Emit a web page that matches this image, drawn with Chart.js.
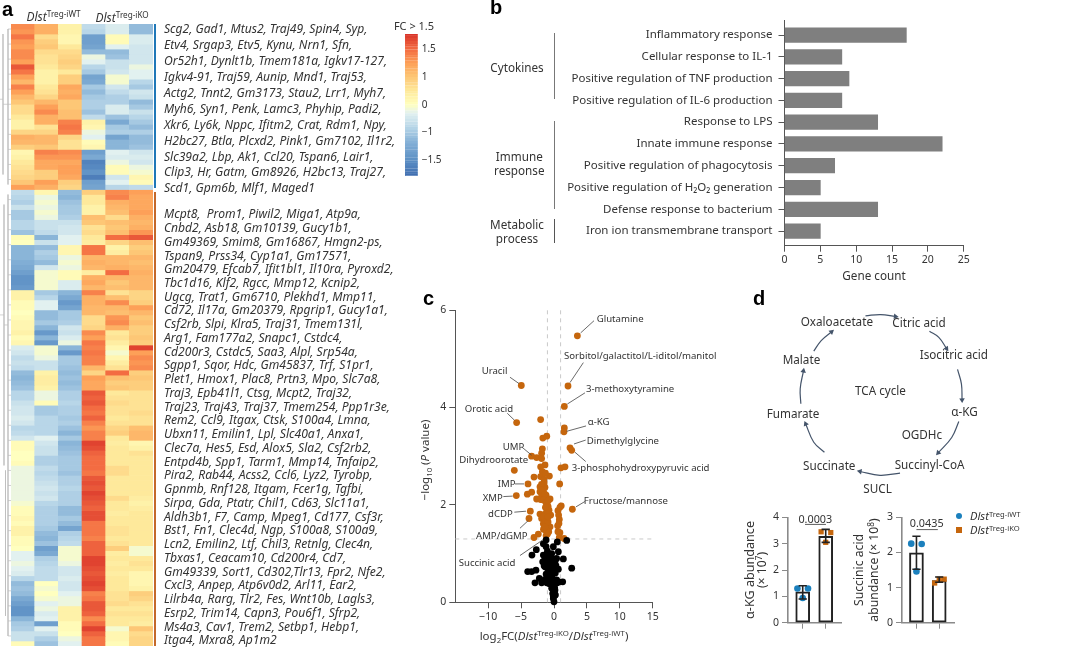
<!DOCTYPE html>
<html>
<head>
<meta charset="utf-8">
<script src="https://cdn.jsdelivr.net/npm/chart.js@4/dist/chart.umd.min.js"></script>
<style>
  html, body { margin: 0; padding: 0; background: #fff; }
  #page { position: relative; width: 1080px; height: 662px; overflow: hidden; font-family: "Noto Sans", sans-serif; color: #333; filter: blur(0.35px); }
  #page canvas { position: absolute; }
  .t { position: absolute; white-space: nowrap; line-height: 1; }
  .genes { position: absolute; left: 164px; font-style: italic; font-size: 12.1px; color: #333; white-space: pre; }
  .letter { position: absolute; font: 800 20px "Liberation Sans", sans-serif; color: #000; line-height: 1; }
  sup { font-size: 0.68em; line-height: 0; vertical-align: 0.5em; font-style: normal; }
  sub { font-size: 0.68em; line-height: 0; vertical-align: -0.3em; }
  i sup { font-style: normal; }
  .rule { position: absolute; }
</style>
</head>
<body>
<div id="page"></div>
<script>
// panel a, heatmap levels, one row = one gene, top to bottom
const heatCol1 = [1.7,1.6,1.9,1.6,1.5,1.7,1.7,1.5,2.2,1.9,1.5,1.2,1.8,1.5,1.2,1.0,0.7,0.7,0.5,0.3,0.3,0.8,1.3,1.2,0.9,0.2,0.3,0.5,0.6,0.7,0.8,1.0,1.5,
  -0.7,-0.8,-0.9,-0.6,-1.0,-1.0,-0.8,-0.8,-1.1,0.1,0.0,-1.3,-1.3,-1.3,-1.4,-1.5,-1.7,-1.9,-1.9,-1.8,0.3,0.3,0.1,0.1,0.0,0.1,0.2,0.2,0.3,0.1,0.2,-0.4,-0.5,-0.7,-0.6,-0.7,-1.2,-1.3,-1.2,-1.1,-0.8,-0.8,-0.6,-0.5,-0.5,-0.4,-0.5,
  -0.8,-0.7,-0.5,0.1,0.1,0,0,0.1,-0.2,-0.2,-0.2,-0.2,-0.2,-0.2,-0.2,-0.1,0.1,0.1,0.2,0.1,0.3,0.3,0.1,0.1,0,-0.3,-0.3,-0.2,-0.3,-0.4,-0.8,-1.2,-1.1,-1.2,-1.5,-1.7,-1.9,-1.9,-1.3,-1,-0.9,-0.6,-0.6,0.1];
const heatCol2 = [1.3,1.3,0.7,0.9,1.0,0.7,0.6,0.6,0.5,0.3,0.3,0.3,0.5,0.6,0.8,1.2,1.5,1.7,1.3,1.3,0.6,0.8,1.2,1.2,1.0,1.8,1.6,1.4,1.4,0.9,0.9,1.5,1.3,
  0.2,-0.2,-0.1,-0.2,-0.1,-0.2,-0.6,-0.6,-0.7,-1.3,-0.6,-1.2,-0.9,-1.0,-1.2,-0.5,-0.1,-0.1,-0.1,-0.1,-1,-0.8,-0.3,-0.3,-1.2,-1.2,-1.0,-1.3,-1.8,-1.3,-1.8,-0.1,-0.1,-0.2,-0.6,-0.6,0.3,0.4,0.4,0.3,-0.2,-0.2,0.1,-1,-1,-0.8,-0.8,
  -0.8,-0.8,-0.3,-0.5,-0.6,-0.6,-0.9,-0.9,-0.7,-0.8,-0.7,-0.6,-0.5,-0.6,-0.5,-0.8,-0.9,-0.9,-0.9,-0.9,-1,-1.2,-1.3,-1.1,-1.7,-1.5,-0.9,-0.8,-0.7,-0.7,-0.7,0,-0.1,0,-0.1,-0.3,-0.2,-0.4,-0.3,-1.7,-0.3,-0.6,-0.9,-1.1];
const heatCol3 = [0.3,0.3,0.2,0.2,0.5,0.7,0.8,0.9,0.8,0.5,0.9,0.9,1.4,1.3,1.4,1.0,1.0,1.1,1.1,1.8,1.9,1.8,0.8,0.6,0.6,1.7,1.6,1.4,1.5,1.5,1.4,0.9,0.8,
  -1.2,-1.3,-1.1,-1,-1,-0.9,-0.6,-0.5,-0.5,-0.3,-0.3,0.2,0.2,-0.2,-0.1,-0.2,0.1,0.1,-0.4,-0.4,-1.3,-1.5,-1.8,-1.6,-1,-1,-0.9,-0.5,-0.6,-0.4,-0.2,-1.3,-1.8,-1.0,-1.0,-1.1,-1.2,-1.1,-1.2,-1.1,-0.9,-0.9,-0.8,-0.9,-0.9,-1,-0.9,
  -1.1,-1.3,-1,-1.3,-1.2,-1.1,-1,-1,-1,-1.1,-0.9,-0.9,-0.8,-0.9,-0.9,-0.9,-1.2,-1.2,-1,-1.2,-1.6,-0.9,-0.8,-0.7,-0.1,-0.1,-0.1,-0.2,-0.5,-0.5,-0.4,-0.5,-0.5,-0.3,-0.2,-0.2,0.3,0.3,0.3,0.1,0.1,0,-0.2,-0.3];
const heatCol4 = [-0.7,-0.8,-1.7,-1.7,-1.6,-1.2,-0.2,-0.3,-0.8,-1,-1.6,-1.5,-1,-1.2,-1,-0.9,-0.9,-1.1,-0.7,0.3,0.2,-0.2,-0.3,0.1,0.2,-1.7,-1.5,-2.2,-2.1,-1.9,-2.3,-1.7,-1.6,
  0.9,0.5,0.5,0.3,0.3,1.1,1.0,0.6,0.7,0.5,0.4,1.9,1.9,1.2,1.3,1.2,0.4,1.3,1.4,1.2,1.8,1.3,1.3,1.2,1.2,0.7,0.7,0.8,1.7,1.5,1.9,1.8,1.9,1.8,1.8,1.2,0.8,1.5,1.4,1.4,2.2,2.1,2.2,2.0,1.9,2.1,1.8,
  1.6,1.8,1.8,2.4,2.3,2.1,2,2,2,1.9,2.2,2.3,2.2,2.4,2.3,2.2,2.1,2.3,2.3,1.9,1.9,1.9,1.8,2.1,2.1,2.1,2.4,2.4,2.3,2.2,2.3,2.4,2.3,1.8,1.9,2.2,2.2,2.1,1.7,2,2.4,2.1,1.9,1.9];
const heatCol5 = [-0.4,-0.4,0.1,0.1,-0.3,-1.2,-1.1,-0.6,-0.6,-0.5,-0.1,-0.1,-0.5,-0.7,-0.9,-0.9,-0.4,-0.4,-1.1,-1.5,-1,-0.9,-1.6,-1.3,-1.3,-0.3,-0.4,-0.2,0.1,0.1,-0.5,-0.3,-0.8,
  1.7,1.8,1.3,1.2,1.1,0.7,1.1,1.0,1.1,2,0.8,0.3,0.4,1.2,1.2,1.3,2,1.2,1.0,1.1,0.6,1.1,1.7,1.2,1.1,1.6,1.7,1.3,0.5,0.6,0.4,0.2,-0.1,0.2,0.4,0.6,2.0,1.1,0.9,1,0.5,0.6,0.7,0.6,0.6,0.5,0.6,
  0.8,0.9,0.5,0.4,0.5,0.5,0.5,0.5,0.7,0.7,0.5,0.5,0.5,0.5,0.7,0.5,0.5,0.4,0.5,0.5,0.6,0.6,0.5,0.6,0.9,0.4,0.5,0.4,0.5,0.4,0.5,0.5,0.5,0.6,0.6,0.7,0.5,0.6,0.5,0.5,-0.1,0.2,0.2,0.1];
const heatCol6 = [-1.2,-1.2,-0.4,-0.4,-0.5,-0.5,-0.5,-0.5,-0.2,-0.3,-0.3,-0.8,-1,-0.5,-0.6,-1.2,-1,-0.6,-0.8,-1,-1.2,-0.9,-1.2,-1.2,-1.1,-0.5,-0.4,-0.5,-0.2,-0.1,0.2,0.1,-0.7,
  1.5,1.4,1.4,1.4,1.5,1.3,1.2,1.3,1.6,2.2,1.1,0.9,1.0,1.2,1.1,1.2,1.3,1.2,1.2,1.2,0.8,0.8,0.9,1.5,1.2,1,1.1,0.9,0.9,1,0.9,2.4,1.5,1.7,1.6,1.7,0.9,1,0.9,0.9,0.6,0.6,0.6,0.6,0.7,0.6,0.6,
  1.1,1.2,1.2,0.2,0.3,0.6,0.5,0.5,0.5,0.5,0.5,0.5,0.5,0.5,0.4,0.3,0.4,0.5,0.5,0.5,0.5,0.5,0.5,0.5,-0.1,-0.1,0.5,0.6,0.5,0.2,0.2,0.2,0.3,0.9,0.8,0.6,0.5,0.6,0.5,0.4,1,0.7,0.8,0.8];
const heatColumns = ["WT1", "WT2", "WT3", "KO1", "KO2", "KO3"];

// dendrogram next to the heatmap: x = height, y = row, NaN breaks the line
const dendroX = [0,3,NaN, 3,3,NaN, 0,4,NaN, 4,4,NaN, 3,8,NaN, 4,8,NaN, 5.5,5.5,NaN, 8,8,NaN, 8,8,NaN];
const dendroY = [15,15,NaN, 2,30,NaN, 58,58,NaN, 36,88,NaN, 16,16,NaN, 60,60,NaN, 89,118,NaN, 1,32,NaN, 34,122,NaN];
const dendroTwigs = [1,4,7,10,13,16,19,22,25,28,31,35,38,41,44,47,50,53,56,59,62,65,68,71,74,77,80,83,86,89,92,95,98,101,104,107,110,113,116,119,122];

const colorbarTicks = { "2": "1.5", "1": "1", "0": "0", "-1": "\u22121", "-2": "\u22121.5" };

const genesUp = [
  "Scg2, Gad1, Mtus2, Traj49, Spin4, Syp,",
  "Etv4, Srgap3, Etv5, Kynu, Nrn1, Sfn,",
  "Or52h1, Dynlt1b, Tmem181a, Igkv17-127,",
  "Igkv4-91, Traj59, Aunip, Mnd1, Traj53,",
  "Actg2, Tnnt2, Gm3173, Stau2, Lrr1, Myh7,",
  "Myh6, Syn1, Penk, Lamc3, Phyhip, Padi2,",
  "Xkr6, Ly6k, Nppc, Ifitm2, Crat, Rdm1, Npy,",
  "H2bc27, Btla, Plcxd2, Pink1, Gm7102, Il1r2,",
  "Slc39a2, Lbp, Ak1, Ccl20, Tspan6, Lair1,",
  "Clip3, Hr, Gatm, Gm8926, H2bc13, Traj27,",
  "Scd1, Gpm6b, Mlf1, Maged1"];
const genesDown = [
  "Mcpt8,  Prom1, Piwil2, Miga1, Atp9a,",
  "Cnbd2, Asb18, Gm10139, Gucy1b1,",
  "Gm49369, Smim8, Gm16867, Hmgn2-ps,",
  "Tspan9, Prss34, Cyp1a1, Gm17571,",
  "Gm20479, Efcab7, Ifit1bl1, Il10ra, Pyroxd2,",
  "Tbc1d16, Klf2, Rgcc, Mmp12, Kcnip2,",
  "Ugcg, Trat1, Gm6710, Plekhd1, Mmp11,",
  "Cd72, Il17a, Gm20379, Rpgrip1, Gucy1a1,",
  "Csf2rb, Slpi, Klra5, Traj31, Tmem131l,",
  "Arg1, Fam177a2, Snapc1, Cstdc4,",
  "Cd200r3, Cstdc5, Saa3, Alpl, Srp54a,",
  "Sgpp1, Sqor, Hdc, Gm45837, Trf, S1pr1,",
  "Plet1, Hmox1, Plac8, Prtn3, Mpo, Slc7a8,",
  "Traj3, Epb41l1, Ctsg, Mcpt2, Traj32,",
  "Traj23, Traj43, Traj37, Tmem254, Ppp1r3e,",
  "Rem2, Ccl9, Itgax, Ctsk, S100a4, Lmna,",
  "Ubxn11, Emilin1, Lpl, Slc40a1, Anxa1,",
  "Clec7a, Hes5, Esd, Alox5, Sla2, Csf2rb2,",
  "Entpd4b, Spp1, Tarm1, Mmp14, Tnfaip2,",
  "Pira2, Rab44, Acss2, Ccl6, Lyz2, Tyrobp,",
  "Gpnmb, Rnf128, Itgam, Fcer1g, Tgfbi,",
  "Sirpa, Gda, Ptatr, Chil1, Cd63, Slc11a1,",
  "Aldh3b1, F7, Camp, Mpeg1, Cd177, Csf3r,",
  "Bst1, Fn1, Clec4d, Ngp, S100a8, S100a9,",
  "Lcn2, Emilin2, Ltf, Chil3, Retnlg, Clec4n,",
  "Tbxas1, Ceacam10, Cd200r4, Cd7,",
  "Gm49339, Sort1, Cd302,Tlr13, Fpr2, Nfe2,",
  "Cxcl3, Anpep, Atp6v0d2, Arl11, Ear2,",
  "Lilrb4a, Rarg, Tlr2, Fes, Wnt10b, Lagls3,",
  "Esrp2, Trim14, Capn3, Pou6f1, Sfrp2,",
  "Ms4a3, Cav1, Trem2, Setbp1, Hebp1,",
  "Itga4, Mxra8, Ap1m2"];

// panel b
const termLabels = ["Inflammatory response", "Cellular response to IL-1", "Positive regulation of TNF production",
  "Positive regulation of IL-6 production", "Response to LPS", "Innate immune response",
  "Positive regulation of phagocytosis", "Positive regulation of H\u2082O\u2082 generation",
  "Defense response to bacterium", "Iron ion transmembrane transport"];
const geneCounts = [17, 8, 9, 8, 13, 22, 7, 5, 13, 5];

// panel c, log2FC and -log10 P
const sigFC = [3.55,-4.97,2.13,1.57,-5.68,-2.03,1.57,1.52,-1.1,-1.7,2.43,2.69,-1.77,-1.88,-3.4,-2.64,-1.88,-1.37,-2.03,1.06,1.67,-6.03,-1.77,-0.7,-3.04,-2.03,-1.52,-3.95,0.86,-2.13,-1.37,-3.4,-4.05,-5.73,-2.13,-1.62,-1.88,-1.2,-2.64,-2.03,-1.37,-0.6,-1.1,1.1,2.79,-3.6,-1.2,-0.76,0.6,-2.13,-1.37,-0.5,0.7,-3.8,-1.88,0.81,-1.1,-1.62,-0.6,0.55,-1.2,0.9,-2.38,-3.04,-1.2,0.8,1.52,
  -1.3,-1.5,-1.9,-1.6,-1.9,-1.4,-1.6,-1.2,-0.9,-0.9,-1.3,-1.0,-1.6,-1.3,-0.9,-0.8,-1.0,-0.9,0.9,0.75,0.6,-1.6,-1.4];
const sigP = [5.47,4.45,4.44,4.02,3.69,3.75,3.58,3.5,3.41,3.37,3.17,3.12,3.15,3.06,3.0,2.97,2.95,2.82,2.78,2.76,2.78,2.71,2.68,2.59,2.57,2.58,2.53,2.43,2.43,2.37,2.36,2.26,2.22,2.19,2.27,2.25,2.18,2.2,2.12,2.11,2.09,2.12,2.0,1.98,1.91,1.87,1.93,1.89,1.88,1.81,1.81,1.79,1.79,1.72,1.72,1.7,1.62,1.61,1.55,1.57,1.47,1.43,1.4,1.33,1.37,1.33,1.31,
  2.65,2.45,2.42,2.32,2.3,2.22,2.1,2.05,2.08,1.97,1.95,1.83,1.75,1.65,1.65,1.45,1.4,1.75,1.95,1.62,1.45,1.5,1.55];
const nsFC = [-1.2,-1.62,1.93,0.5,-2.69,-3.35,-1.2,-0.1,0.66,1.42,2.69,-1.62,-1.1,-0.35,-1.72,-0.86,0.15,-1.37,-0.35,0.66,-4,-3.4,-2.74,-0.1,-2.23,-1.37,-0.5,-2.89,-1.88,-0.86,0.5,1.32,-0.1,-0.35,0.15,-0.2,0.15,-0.1,0,0.4,-0.86,0.4,
  -1,-1.4,-0.9,-1.5,-1.2,-0.6,-1.5,-1,-0.4,-0.2,-0.7,-0.1,0.2,0.3,-0.5,-0.3,-0.8,-0.1,0.3,0.2,-0.2,-0.05,0,0.1,-0.1,-1.1,-0.7,0.75,-1.2];
const nsP = [1.28,1.2,1.27,1.24,1.08,0.97,1.14,1.14,1.04,0.89,0.7,0.97,0.94,1.0,0.83,0.83,0.83,0.73,0.73,0.68,0.63,0.63,0.66,0.6,0.49,0.47,0.53,0.4,0.4,0.42,0.4,0.42,0.36,0.29,0.25,0.18,0.15,0.08,0.01,0.46,0.94,0.9,
  1.05,0.95,0.9,0.85,0.8,0.85,0.75,0.7,0.9,0.8,0.6,0.7,0.6,0.75,0.45,0.5,0.5,0.45,0.4,0.15,0.35,0.25,0.2,0.3,0.12,0.4,0.38,0.42,0.58];
const leaderX = [6.08,4.05,NaN, 4.46,2.43,NaN, 4.71,2.03,NaN, -6.69,-5.32,NaN, -7.1,-6.03,NaN, 4.87,1.93,NaN, 4.82,3.04,NaN, 4.82,3.19,NaN, -4.92,-3.4,NaN, -5.93,-4.56,NaN, -7.7,-6.28,NaN, -6.03,-4.26,NaN, -5.17,-3.9,NaN, -5.17,-1.72,NaN, 4.71,3.35];
const leaderY = [5.78,5.53,NaN, 4.92,4.51,NaN, 4.3,4.07,NaN, 4.62,4.49,NaN, 3.88,3.74,NaN, 3.62,3.51,NaN, 3.33,3.25,NaN, 2.89,3.08,NaN, 3.19,3.02,NaN, 2.43,2.43,NaN, 2.17,2.18,NaN, 1.85,1.87,NaN, 1.52,1.68,NaN, 0.96,1.28,NaN, 2.07,1.96];

// panel d, bars with replicates
const akgBars = [1.17, 3.28];
const akgWT = [1.3, 1.3, 0.94];
const akgKO = [3.45, 3.42, 3.05];
const akgErrLow = [0.9, 3.05];
const akgErrHigh = [1.4, 3.54];
const sucBars = [1.99, 1.2];
const sucWT = [2.25, 2.24, 1.46];
const sucKO = [1.13, 1.24, 1.24];
const sucErrLow = [1.52, 1.15];
const sucErrHigh = [2.46, 1.3];

// TCA cycle arrows, one list per arrow
const arrowXs = [[345,392,438],[543,572,596],[630,642,644],[634,612,570],[452,390,328],[218,185,160],[145,143,153],[185,208,240]];
const arrowYs = [[68,64,70],[116,135,170],[235,280,330],[397,447,495],[558,565,553],[493,462,405],[342,295,240],[178,145,118]];

const page = document.getElementById("page");
const FONT = '"Noto Sans", sans-serif';
const INK = "#333";
const AXIS = "#555";
const ORANGE = "#c5660d";
const BLUE = "#1b80bd";

Chart.defaults.animation = false;
Chart.defaults.responsive = false;
Chart.defaults.font.family = FONT;
Chart.defaults.color = INK;
Chart.defaults.plugins.legend.display = false;
Chart.defaults.plugins.tooltip.enabled = false;

function canvasAt(x, y, w, h) {
  const c = document.createElement("canvas");
  c.width = w; c.height = h;
  c.style.left = x + "px"; c.style.top = y + "px";
  page.appendChild(c);
  return c;
}

// anchor: l = left edge at x, c = centred on x
function label(x, y, html, size, anchor, rotate) {
  const d = document.createElement("div");
  d.className = "t";
  d.innerHTML = html;
  d.style.left = x + "px"; d.style.top = y + "px";
  d.style.fontSize = (size || 11) + "px";
  const tx = anchor === "c" ? "-50%" : "0";
  d.style.transform = `translate(${tx},-50%)` + (rotate ? ` rotate(${rotate}deg)` : "");
  page.appendChild(d);
  return d;
}

function rule(x, y, w, h, color) {
  const d = document.createElement("div");
  d.className = "rule";
  d.style.cssText = `left:${x}px;top:${y}px;width:${w}px;height:${h}px;background:${color}`;
  page.appendChild(d);
}

function letter(x, y, s) {
  const d = document.createElement("div");
  d.className = "letter"; d.textContent = s;
  d.style.left = x + "px"; d.style.top = y + "px";
  page.appendChild(d);
}

function zip(xs, ys) { return xs.map((x, i) => ({ x: x, y: ys[i] })); }

// blue - pale yellow - red, on the equal-step scale of the colour bar
const colorStops = [[-2.6,[63,108,175]],[-2,[92,143,196]],[-1.4,[129,174,213]],[-0.8,[184,214,232]],[-0.3,[226,241,240]],[0,[255,255,191]],[0.5,[254,233,155]],[1,[253,199,118]],[1.5,[253,160,88]],[2,[243,108,66]],[2.6,[214,47,39]]];
function levelColor(v) {
  for (let i = 1; i < colorStops.length; i++) {
    const [a, ca] = colorStops[i - 1], [b, cb] = colorStops[i];
    if (v <= b) {
      const t = Math.max(0, (v - a) / (b - a));
      return `rgb(${ca.map((c, k) => Math.round(c + (cb[k] - c) * t)).join(",")})`;
    }
  }
  return "rgb(214,47,39)";
}

// ---- a: heatmap ----
const heatCols = [heatCol1, heatCol2, heatCol3, heatCol4, heatCol5, heatCol6];
new Chart(canvasAt(11, 24, 142, 622), {
  type: "bar",
  data: {
    labels: heatColumns,
    datasets: heatCol1.map((_, r) => ({
      data: heatCols.map(() => 1),
      backgroundColor: heatCols.map(c => levelColor(c[r])),
      borderWidth: 0,
      barPercentage: 1,
      categoryPercentage: 1
    }))
  },
  options: {
    scales: {
      x: { display: false, stacked: true },
      y: { display: false, stacked: true, reverse: true, min: 0, max: heatCol1.length }
    }
  }
});

const twigSets = dendroTwigs.map(r => ({ data: [{ x: 8, y: r }, { x: 11, y: r }] }));
new Chart(canvasAt(0, 24, 11, 622), {
  type: "scatter",
  data: {
    datasets: [{ data: zip(dendroX, dendroY) }].concat(twigSets).map(d => Object.assign(d, {
      showLine: true, pointRadius: 0, borderColor: "#bdbdbd", borderWidth: 0.7, spanGaps: false, clip: false
    }))
  },
  options: {
    scales: {
      x: { display: false, min: 0, max: 11 },
      y: { display: false, reverse: true, min: 0, max: heatCol1.length }
    }
  }
});

rule(154, 24, 2, 164, "#1f78b8");
rule(154, 192, 2, 454, "#c4692b");
label(26.5, 17, '<i>Dlst</i><sup>Treg-iWT</sup>', 12);
label(95.5, 17.5, '<i>Dlst</i><sup>Treg-iKO</sup>', 12);

genesUp.forEach((g, i) => {
  const d = document.createElement("div");
  d.className = "genes"; d.textContent = g;
  d.style.top = (20.3 + i * 15.9) + "px";
  page.appendChild(d);
});
genesDown.forEach((g, i) => {
  const d = document.createElement("div");
  d.className = "genes"; d.textContent = g;
  d.style.top = (205.3 + i * 13.74) + "px";
  page.appendChild(d);
});

// colour bar
const barLevels = [];
for (let i = -26; i < 26; i++) barLevels.push(i / 10);
new Chart(canvasAt(405, 20, 40, 170), {
  type: "bar",
  data: {
    labels: ["FC"],
    datasets: barLevels.map(l => ({
      data: [[l, l + 0.1]],
      backgroundColor: levelColor(l + 0.05),
      borderColor: levelColor(l + 0.05),
      borderWidth: 0.5,
      grouped: false,
      barPercentage: 1,
      categoryPercentage: 1
    }))
  },
  options: {
    layout: { padding: { top: 14, bottom: 14.3 } },
    scales: {
      x: { display: false },
      y: {
        position: "right", min: -2.56, max: 2.56,
        afterFit(s) { s.width = 27.3; },
        afterBuildTicks(s) { s.ticks = Object.keys(colorbarTicks).map(k => ({ value: +k })); },
        border: { display: false },
        grid: { display: false, drawTicks: false },
        ticks: { padding: 4, font: { size: 10 }, callback: v => colorbarTicks[v] }
      }
    }
  }
});
label(414, 25, "FC &gt; 1.5", 11, "c");

// ---- b: gene counts ----
new Chart(canvasAt(540, 8, 440, 284), {
  type: "bar",
  data: {
    datasets: [{
      data: zip(geneCounts, termLabels.map((_, i) => i)),
      backgroundColor: "#7f7f7f",
      barThickness: 14.6
    }]
  },
  options: {
    indexAxis: "y",
    layout: { padding: { top: 10, right: 16.3 } },
    scales: {
      x: {
        type: "linear", min: 0, max: 25,
        afterFit(s) { s.height = 46.3; },
        border: { color: AXIS },
        grid: { drawOnChartArea: false, tickLength: 6, color: AXIS },
        ticks: { stepSize: 5, padding: 2, font: { size: 10.5 } }
      },
      y: {
        type: "linear", reverse: true, min: -0.648, max: 9.67, offset: false,
        afterFit(s) { s.width = 244.5; },
        afterBuildTicks(s) { s.ticks = termLabels.map((_, i) => ({ value: i })); },
        border: { color: AXIS },
        grid: { drawOnChartArea: false, tickLength: 6, color: AXIS, offset: false },
        ticks: { padding: 6, autoSkip: false, font: { size: 11.5 }, callback: v => termLabels[v] }
      }
    }
  }
});
label(874, 275.5, "Gene count", 11.7, "c");
label(517, 68, "Cytokines", 11.7, "c");
label(519.3, 157, "Immune", 11.7, "c");
label(519.3, 171, "response", 11.7, "c");
label(517, 225, "Metabolic", 11.7, "c");
label(517, 239, "process", 11.7, "c");
rule(554, 33, 1, 66, "#777");
rule(554, 121, 1, 88, "#777");
rule(554, 219, 1, 23.5, "#555");

// ---- c: volcano ----
const thresholdStyle = {
  showLine: true, pointRadius: 0, borderColor: "#c9c9c9", borderWidth: 1, borderDash: [4, 4], clip: false, order: 5
};
new Chart(canvasAt(425, 300, 240, 326), {
  type: "scatter",
  data: {
    datasets: [
      { data: zip(leaderX, leaderY), showLine: true, pointRadius: 0, borderColor: "#444", borderWidth: 0.8, spanGaps: false, clip: false, order: 0 },
      { data: zip(nsFC, nsP), backgroundColor: "#000", pointRadius: 3.4, borderWidth: 0, clip: false, order: 1 },
      { data: zip(sigFC, sigP), backgroundColor: ORANGE, pointRadius: 3.4, borderWidth: 0, clip: false, order: 2 },
      Object.assign({ data: zip([-1, -1], [0, 6]) }, thresholdStyle),
      Object.assign({ data: zip([1, 1], [0, 6]) }, thresholdStyle),
      Object.assign({ data: zip([-15, 15], [1.3, 1.3]) }, thresholdStyle)
    ]
  },
  options: {
    layout: { padding: { top: 10, right: 12.3 } },
    scales: {
      x: {
        min: -15, max: 15,
        afterFit(s) { s.height = 23.7; },
        afterBuildTicks(s) { s.ticks = [-10, -5, 0, 5, 10, 15].map(v => ({ value: v })); },
        border: { color: AXIS },
        grid: { drawOnChartArea: false, tickLength: 6, color: AXIS },
        ticks: { padding: 2, font: { size: 10.5 }, callback: v => (v < 0 ? "\u2212" + (-v) : "" + v) }
      },
      y: {
        min: 0, max: 6,
        afterFit(s) { s.width = 30.3; },
        afterBuildTicks(s) { s.ticks = [0, 2, 4, 6].map(v => ({ value: v })); },
        border: { color: AXIS },
        grid: { drawOnChartArea: false, tickLength: 6, color: AXIS },
        ticks: { padding: 3, font: { size: 10.5 } }
      }
    }
  }
});
label(554, 636, 'log<sub>2</sub>FC(<i>Dlst</i><sup>Treg-iKO</sup>/<i>Dlst</i><sup>Treg-iWT</sup>)', 11.5, "c");
label(425, 460, '\u2212log<sub>10</sub> (<i>P</i> value)', 11.5, "c", -90);
[[596.7,319.3,"Glutamine"],[564,356,"Sorbitol/galactitol/L-iditol/manitol"],[481.7,370.7,"Uracil"],
 [586,388.7,"3-methoxytyramine"],[464.7,408.7,"Orotic acid"],[587.7,422,"\u03b1-KG"],[502.7,447.3,"UMP"],
 [586.7,441,"Dimethylglycine"],[459.3,460,"Dihydroorotate"],[571.7,467.7,"3-phosphohydroxypyruvic acid"],
 [497.7,484.3,"IMP"],[482.7,498,"XMP"],[583.7,500.7,"Fructose/mannose"],[488,513.7,"dCDP"],
 [476,536.3,"AMP/dGMP"],[458.7,563.3,"Succinic acid"]].forEach(n => label(n[0], n[1], n[2], 9.6));

// ---- d: TCA cycle ----
new Chart(canvasAt(750, 290, 260, 215), {
  type: "scatter",
  data: {
    datasets: arrowXs.map((xs, a) => {
      const ys = arrowYs[a];
      const angle = Math.atan2(ys[2] - ys[1], xs[2] - xs[1]) * 180 / Math.PI + 90;
      return {
        data: zip(xs, ys),
        showLine: true,
        tension: 0.4,
        borderColor: "#44546a",
        borderWidth: 1.2,
        backgroundColor: "#44546a",
        pointStyle: "triangle",
        pointRadius: [0, 0, 3.2],
        pointBorderWidth: 0,
        pointRotation: [0, 0, angle],
        clip: false
      };
    })
  },
  options: {
    scales: {
      x: { display: false, min: 0, max: 780 },
      y: { display: false, reverse: true, min: 0, max: 645 }
    }
  }
});
[[800.7,322,"Oxaloacetate"],[892.3,323,"Citric acid"],[919.7,355,"Isocitric acid"],[782.7,359.7,"Malate"],
 [855,391,"TCA cycle"],[766.7,414,"Fumarate"],[951.3,411.7,"\u03b1-KG"],[901.7,434.7,"OGDHc"],
 [803,465.7,"Succinate"],[894.7,464.7,"Succinyl-CoA"],[863.3,489.3,"SUCL"]].forEach(n => label(n[0], n[1], n[2], 11.7));

// small bar charts with replicates and error bars
function barPanel(cfg) {
  const errX = [], errY = [];
  const capHalf = 0.18;
  cfg.low.forEach((lo, i) => {
    const x = i + 1, hi = cfg.high[i];
    errX.push(x, x, NaN, x - capHalf, x + capHalf, NaN, x - capHalf, x + capHalf, NaN);
    errY.push(lo, hi, NaN, hi, hi, NaN, lo, lo, NaN);
  });
  new Chart(canvasAt(cfg.left - 28, 508, 28 + cfg.width + 6, 124), {
    data: {
      datasets: [
        { type: "scatter", data: zip(errX, errY), showLine: true, pointRadius: 0, borderColor: "#222", borderWidth: 1.6, spanGaps: false, clip: false, order: 0 },
        { type: "scatter", data: zip(cfg.pX, [cfg.pY, cfg.pY]), showLine: true, pointRadius: 0, borderColor: "#333", borderWidth: 0.8, clip: false, order: 0 },
        { type: "scatter", data: zip([0.77, 1.23, 1], cfg.wt), backgroundColor: BLUE, pointRadius: 3.3, borderWidth: 0, clip: false, order: 1 },
        { type: "scatter", data: zip([1.8, 2.22, 2], cfg.ko), backgroundColor: ORANGE, pointStyle: "rect", pointRadius: 3.7, borderWidth: 0, clip: false, order: 1 },
        { type: "bar", data: zip([1, 2], cfg.bars), backgroundColor: "#fff", borderColor: "#222", borderWidth: 2, borderSkipped: false, barThickness: 14, order: 2 }
      ]
    },
    options: {
      layout: { padding: { top: cfg.top - 508, right: 6 } },
      scales: {
        x: {
          type: "linear", min: cfg.xMin, max: cfg.xMax, offset: false,
          afterFit(s) { s.height = 632 - 624.2; },
          afterBuildTicks(s) { s.ticks = [{ value: 1 }, { value: 2 }]; },
          border: { color: "#8a8a8a", width: 1.6 },
          grid: { drawOnChartArea: false, tickLength: 6, color: "#8a8a8a", offset: false },
          ticks: { display: true, padding: 0, font: { size: 1 }, callback: () => "" }
        },
        y: {
          min: 0, max: cfg.yMax,
          afterFit(s) { s.width = 28; },
          afterBuildTicks(s) { s.ticks = Array.from({ length: cfg.yMax + 1 }, (_, v) => ({ value: v })); },
          border: { color: "#8a8a8a", width: 1.6 },
          grid: { drawOnChartArea: false, tickLength: 6, color: "#8a8a8a" },
          ticks: { padding: 3, font: { size: 10.5 } }
        }
      }
    }
  });
}
barPanel({ left: 788, width: 53, top: 516.7, yMax: 4, xMin: 0.36, xMax: 2.665, bars: akgBars, wt: akgWT, ko: akgKO,
  low: akgErrLow, high: akgErrHigh, pX: [1.1, 2.01], pY: 3.73 });
barPanel({ left: 902.3, width: 52, top: 516.7, yMax: 3, xMin: 0.365, xMax: 2.65, bars: sucBars, wt: sucWT, ko: sucKO,
  low: sucErrLow, high: sucErrHigh, pX: [1, 1.94], pY: 2.65 });
label(815.3, 518.5, "0.0003", 10.8, "c");
label(926.7, 522.7, "0.0435", 10.8, "c");
label(750, 570, '\u03b1-KG abundance', 12.6, "c", -90);
label(761.7, 570, '(\u00d7 10<sup>7</sup>)', 12.2, "c", -90);
label(859, 570, 'Succinic acid', 12.2, "c", -90);
label(874, 570, 'abundance (\u00d7 10<sup>8</sup>)', 12.2, "c", -90);

// legend of the bars
const legendDot = document.createElement("div");
legendDot.className = "rule";
legendDot.style.cssText = "left:956px;top:513px;width:6.4px;height:6.4px;border-radius:50%;background:" + BLUE;
page.appendChild(legendDot);
rule(956, 527, 6.4, 6.4, ORANGE);
label(970, 516, '<i>Dlst</i><sup>Treg-iWT</sup>', 11.2);
label(970, 530, '<i>Dlst</i><sup>Treg-iKO</sup>', 11.2);

letter(2, -1, "a");
letter(490, -3, "b");
letter(423, 288, "c");
letter(753, 288, "d");
</script>
</body>
</html>
